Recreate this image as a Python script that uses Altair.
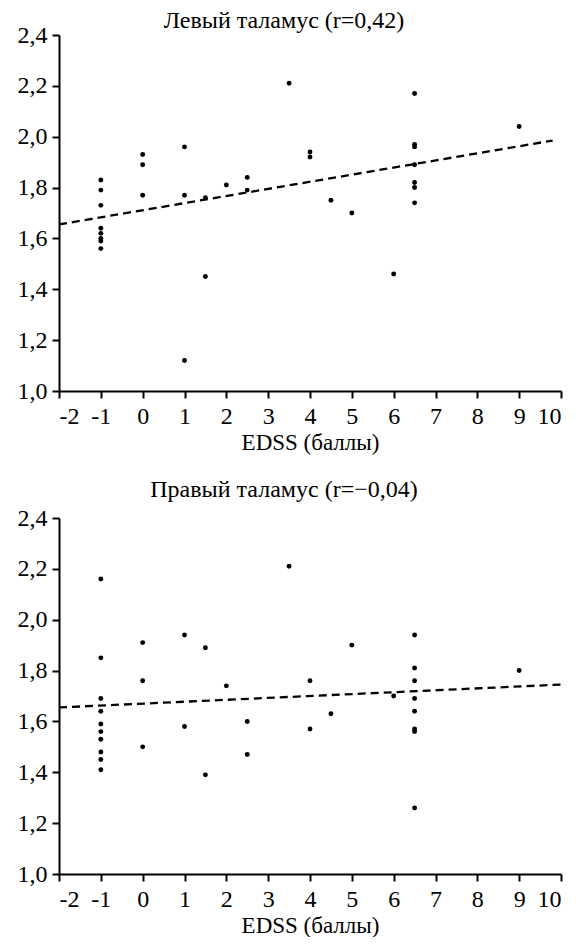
import altair as alt
import pandas as pd

# ---- data ----
edss_left = [-1, -1, -1, -1, -1, -1, -1, -1,
             0, 0, 0,
             1, 1, 1,
             1.5, 1.5,
             2,
             2.5, 2.5,
             3.5,
             4, 4,
             4.5,
             5,
             6,
             6.5, 6.5, 6.5, 6.5, 6.5, 6.5, 6.5,
             9]
thal_left = [1.83, 1.79, 1.73, 1.64, 1.62, 1.60, 1.59, 1.56,
             1.93, 1.89, 1.77,
             1.96, 1.77, 1.12,
             1.76, 1.45,
             1.81,
             1.84, 1.79,
             2.21,
             1.94, 1.92,
             1.75,
             1.70,
             1.46,
             2.17, 1.97, 1.96, 1.89, 1.82, 1.80, 1.74,
             2.04]

edss_right = [-1, -1, -1, -1, -1, -1, -1, -1, -1, -1,
              0, 0, 0,
              1, 1,
              1.5, 1.5,
              2,
              2.5, 2.5,
              3.5,
              4, 4,
              4.5,
              5,
              6,
              6.5, 6.5, 6.5, 6.5, 6.5, 6.5, 6.5, 6.5,
              9]
thal_right = [2.16, 1.85, 1.69, 1.64, 1.59, 1.56, 1.53, 1.48, 1.45, 1.41,
              1.91, 1.76, 1.50,
              1.94, 1.58,
              1.89, 1.39,
              1.74,
              1.60, 1.47,
              2.21,
              1.76, 1.57,
              1.63,
              1.90,
              1.70,
              1.94, 1.81, 1.76, 1.69, 1.64, 1.57, 1.56, 1.26,
              1.80]

fit_left_x = [-2, 9.8]
fit_left_y = [1.655, 1.985]
fit_right_x = [-2, 10]
fit_right_y = [1.655, 1.745]

x_ticks = [-2, -1, 0, 1, 2, 3, 4, 5, 6, 7, 8, 9, 10]
y_ticks = [1.0, 1.2, 1.4, 1.6, 1.8, 2.0, 2.2, 2.4]

title_left = "Левый таламус (r=0,42)"
title_right = "Правый таламус (r=−0,04)"
x_title = "EDSS (баллы)"

FONT = "Liberation Serif"
FS = 24


def panel(title, xs, ys, fx, fy, title_offset):
    pts = pd.DataFrame({"x": xs, "y": ys})
    fit = pd.DataFrame({"x": fx, "y": fy})
    x_enc = alt.X(
        "x:Q",
        scale=alt.Scale(domain=[-2, 10], nice=False, zero=False),
        axis=alt.Axis(
            values=x_ticks,
            title=x_title,
            labelExpr="datum.value < 0 ? '-' + abs(datum.value) : '' + datum.value",
            labelFont=FONT,
            labelFontSize=FS,
            titleFont=FONT,
            titleFontSize=23,
            titleFontWeight="normal",
            labelPadding=6,
            titlePadding=3,
            labelColor="black",
            titleColor="black",
        ),
    )
    y_enc = alt.Y(
        "y:Q",
        scale=alt.Scale(domain=[1.0, 2.4], nice=False, zero=False),
        axis=alt.Axis(
            values=y_ticks,
            title=None,
            labelExpr="replace(format(datum.value, '.1f'), '.', ',')",
            labelFont=FONT,
            labelFontSize=FS,
            labelPadding=5,
            labelColor="black",
        ),
    )
    points = alt.Chart(pts).mark_circle(size=24, color="black", opacity=1).encode(
        x=x_enc, y=y_enc
    )
    line = alt.Chart(fit).mark_line(
        color="black", strokeDash=[8, 5], strokeWidth=2.3
    ).encode(x="x:Q", y="y:Q")
    return alt.layer(points, line).properties(
        width=502,
        height=356,
        title=alt.TitleParams(
            title,
            dx=-26,
            offset=title_offset,
            font=FONT,
            fontSize=FS,
            fontWeight="normal",
            color="black",
            frame="group",
        ),
    )


top = panel(title_left, edss_left, thal_left, fit_left_x, fit_left_y, -10)
bottom = panel(title_right, edss_right, thal_right, fit_right_x, fit_right_y, 4)

chart = (
    alt.vconcat(top, bottom, spacing=24)
    .properties(padding={"left": 9, "top": 1, "right": 5, "bottom": 0})
    .configure(font=FONT)
    .configure_view(strokeWidth=0)
    .configure_axis(
        grid=False,
        domainColor="black",
        domainWidth=2,
        tickColor="black",
        tickWidth=2,
        tickSize=7,
        labelFont=FONT,
        titleFont=FONT,
    )
)

chart.save("out.html", embed_options={"renderer": "svg", "actions": False})
